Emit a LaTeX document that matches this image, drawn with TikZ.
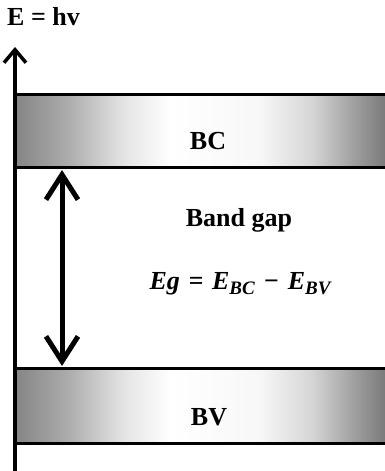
\documentclass[tikz,border=0pt]{standalone}
\usepackage{fontspec}
\setmainfont{Liberation Serif}
\usetikzlibrary{arrows.meta}
\pgfdeclarehorizontalshading{bandshade}{100bp}{color(0bp)=(black!48); color(25bp)=(black!48); color(32bp)=(black!33); color(40bp)=(black!10); color(46bp)=(white); color(58bp)=(white!97!black); color(65bp)=(black!16); color(71bp)=(black!38); color(75bp)=(black!52); color(100bp)=(black!52)}
\tikzset{
  band/.style={shading=bandshade, draw=none, minimum width=370pt, anchor=south west, inner sep=0pt, outer sep=0pt},
  bandline/.style={line width=3pt},
  lbl/.style={font=\bfseries\fontsize{26}{30}\selectfont, inner sep=0pt},
  axisline/.style={line width=3.5pt, -{Straight Barb[length=13pt,width=22pt]}},
  gaparrow/.style={line width=5pt, {Straight Barb[length=25pt,width=32pt]}-{Straight Barb[length=25pt,width=32pt]}}
}
\begin{document}
\begin{tikzpicture}[x=1pt,y=1pt]
\useasboundingbox (0,0) rectangle (385,471);
% bands
\node[band, minimum height=73pt] (bc) at (15,303) {};
\node[band, minimum height=75pt] (bv) at (15,27) {};
\draw[bandline] (bc.north west) -- (bc.north east);
\draw[bandline] (bc.south west) -- (bc.south east);
\draw[bandline] (bv.north west) -- (bv.north east);
\draw[bandline] (bv.south west) -- (bv.south east);
% axis
\coordinate (ax0) at (15,-2);
\coordinate (ax1) at (15,424);
\draw[axisline] (ax0) -- (ax1);
% labels
\node[lbl, anchor=base west] (ehv) at (7,445) {E = hv};
\node[lbl] (bctext) at (208,330) {BC};
\node[lbl] (bvtext) at (209,54) {BV};
\node[lbl, anchor=base] (gap) at (239,244) {Band gap};
\node[inner sep=0pt, anchor=base, font=\bfseries\itshape\fontsize{26}{29}\selectfont] (eq) at (240,181)
  {Eg\,\,=\,\,E\raisebox{-0.35ex}{\fontsize{19}{19}\selectfont BC}\,\,−\,\,E\raisebox{-0.35ex}{\fontsize{19}{19}\selectfont BV}};
% gap arrow
\coordinate (gx) at (62,0);
\coordinate (gtop) at (gx |- bc.south);
\coordinate (gbot) at (gx |- bv.north);
\draw[gaparrow] ([yshift=3pt]gbot) -- ([yshift=-2pt]gtop);
\end{tikzpicture}
\end{document}
